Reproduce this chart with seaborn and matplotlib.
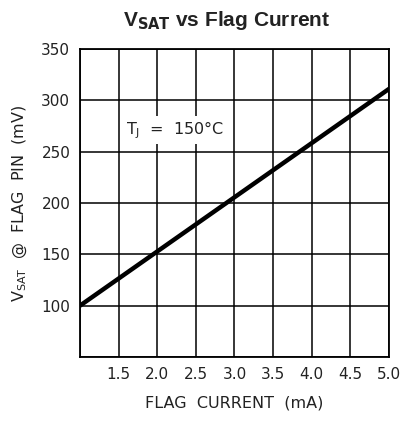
import matplotlib
matplotlib.use('Agg')
import matplotlib.pyplot as plt
import seaborn as sns
import pandas as pd

# flag current (mA) vs saturation voltage (mV), Tj = 150C
flag_current = [1.0, 5.0]
vsat = [100, 311]
x_ticks = [1.5, 2.0, 2.5, 3.0, 3.5, 4.0, 4.5, 5.0]
y_ticks = [100, 150, 200, 250, 300, 350]

df = pd.DataFrame({'current': flag_current, 'vsat': vsat})

sns.set_theme(style='white')
plt.rcParams['font.family'] = ['DejaVu Sans']

fig = plt.figure(figsize=(4.06, 4.25), dpi=100)
ax = fig.add_axes([0.197, 0.16, 0.761, 0.725])

sns.lineplot(data=df, x='current', y='vsat', color='black', linewidth=3.2, ax=ax)

ax.set_xlim(1.0, 5.0)
ax.set_ylim(50, 350)
ax.set_xticks([1.0] + x_ticks)
ax.set_xticklabels([''] + [f'{v:.1f}' for v in x_ticks])
ax.set_yticks([50] + y_ticks)
ax.set_yticklabels([''] + [str(v) for v in y_ticks])
ax.tick_params(length=0, labelsize=11, colors='#222222', pad=7)
ax.grid(True, color='black', linewidth=1.1)
for s in ax.spines.values():
    s.set_color('black')
    s.set_linewidth(1.3)

ax.set_xlabel('FLAG  CURRENT  (mA)', fontsize=11.5, color='#222222', labelpad=10)
ax.set_ylabel(r'V$_{\mathregular{SAT}}$  @  FLAG  PIN  (mV)', fontsize=11.5, color='#222222', labelpad=9)

ax.text(1.6, 271, r'T$_{\mathregular{J}}$  =  150°C', fontsize=11.5, color='#222222',
        ha='left', va='center',
        bbox=dict(facecolor='white', edgecolor='none', pad=2))

fig.suptitle(r'V$_{\mathbf{SAT}}$ vs Flag Current', x=0.557, y=0.98,
             fontsize=15, fontweight='bold', family='Liberation Sans', color='#222222')

fig.savefig('out.png', dpi=100)
